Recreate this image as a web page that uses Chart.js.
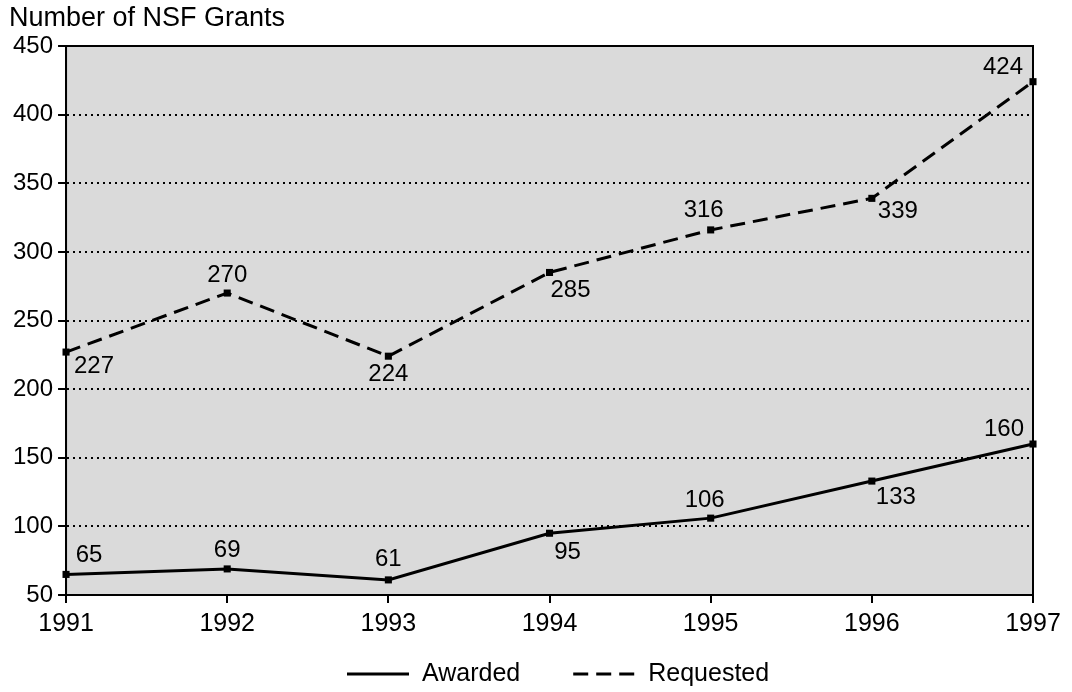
<!DOCTYPE html>
<html>
<head>
<meta charset="utf-8">
<title>Number of NSF Grants</title>
<script src="https://cdn.jsdelivr.net/npm/chart.js@4.4.0/dist/chart.umd.min.js"></script>
<style>
    html, body { margin: 0; padding: 0; background: #fff; }
    #wrap { width: 1072px; height: 692px; }
</style>
</head>
<body>
<div id="wrap"><canvas id="grantsChart"></canvas></div>
<script>
// Data
const years = ['1991', '1992', '1993', '1994', '1995', '1996', '1997'];
const awarded = [65, 69, 61, 95, 106, 133, 160];
const requested = [227, 270, 224, 285, 316, 339, 424];
const yMin = 50;
const yMax = 450;
const yStep = 50;

// where each value label sits relative to its point (dx, dy in px)
const awardedLabelOffsets = [[23, -19], [0, -19], [0, -21], [18, 19], [-6, -18], [24, 16], [-29, -15]];
const requestedLabelOffsets = [[28, 14], [0, -18], [0, 18], [21, 18], [-7, -20], [26, 13], [-30, -14]];

const FONT = "'Liberation Sans', Arial, Helvetica, sans-serif";

// gray plot background, frame, y title, point labels and the legend
const decorations = {
    id: 'decorations',
    beforeDraw(chart) {
        const { ctx, chartArea: a } = chart;
        ctx.save();
        ctx.fillStyle = '#dadada';
        ctx.fillRect(a.left, a.top, a.right - a.left, a.bottom - a.top);
        ctx.fillStyle = '#000';
        ctx.font = '27px ' + FONT;
        ctx.textAlign = 'left';
        ctx.textBaseline = 'middle';
        ctx.fillText('Number of NSF Grants', 9, 19);
        ctx.restore();
    },
    afterDraw(chart) {
        const { ctx, chartArea: a } = chart;
        ctx.save();
        ctx.strokeStyle = '#000';
        ctx.lineWidth = 2;
        ctx.setLineDash([]);
        ctx.strokeRect(a.left, a.top, a.right - a.left, a.bottom - a.top);

        ctx.fillStyle = '#000';
        ctx.font = '24px ' + FONT;
        ctx.textAlign = 'center';
        ctx.textBaseline = 'middle';
        const offsets = [awardedLabelOffsets, requestedLabelOffsets];
        chart.data.datasets.forEach((ds, i) => {
            const meta = chart.getDatasetMeta(i);
            meta.data.forEach((pt, j) => {
                const [dx, dy] = offsets[i][j];
                ctx.fillText(String(ds.data[j]), pt.x + dx, pt.y + dy);
            });
        });

        // legend: line sample + label for each dataset
        ctx.font = '25px ' + FONT;
        ctx.textAlign = 'left';
        const legendY = 674;
        let x = 347;
        chart.data.datasets.forEach((ds) => {
            ctx.beginPath();
            ctx.lineWidth = 3;
            ctx.setLineDash(ds.borderDash || []);
            ctx.moveTo(x, legendY);
            ctx.lineTo(x + 62, legendY);
            ctx.stroke();
            ctx.setLineDash([]);
            ctx.fillText(ds.label, x + 75, legendY);
            x += 75 + ctx.measureText(ds.label).width + 53;
        });
        ctx.restore();
    }
};

new Chart(document.getElementById('grantsChart'), {
    type: 'line',
    data: {
        labels: years,
        datasets: [
            {
                label: 'Awarded',
                data: awarded,
                borderColor: '#000',
                backgroundColor: '#000',
                borderWidth: 3,
                pointStyle: 'rect',
                pointRadius: 5,
                pointBackgroundColor: '#000',
                pointBorderWidth: 0,
                tension: 0,
                fill: false
            },
            {
                label: 'Requested',
                data: requested,
                borderColor: '#000',
                backgroundColor: '#000',
                borderWidth: 3,
                borderDash: [15, 8],
                pointStyle: 'rect',
                pointRadius: 5,
                pointBackgroundColor: '#000',
                pointBorderWidth: 0,
                tension: 0,
                fill: false
            }
        ]
    },
    options: {
        responsive: true,
        maintainAspectRatio: false,
        animation: false,
        devicePixelRatio: 1,
        layout: { padding: { left: 8, right: 39, top: 46, bottom: 47 } },
        plugins: {
            title: { display: false },
            tooltip: { enabled: false },
            legend: { display: false }
        },
        scales: {
            x: {
                offset: false,
                grid: {
                    drawOnChartArea: false,
                    drawTicks: true,
                    tickLength: 8,
                    color: '#000',
                    lineWidth: 2,
                    tickBorderDash: []
                },
                border: { display: true, color: '#000', width: 2 },
                ticks: {
                    color: '#000',
                    font: { family: FONT, size: 25 },
                    padding: 6,
                    maxRotation: 0,
                    autoSkip: false
                }
            },
            y: {
                min: yMin,
                max: yMax,
                grid: {
                    color: '#000',
                    lineWidth: 2,
                    tickLength: 8,
                    tickColor: '#000',
                    tickWidth: 2,
                    tickBorderDash: []
                },
                border: { display: true, color: '#000', width: 2, dash: [2, 4] },
                ticks: {
                    stepSize: yStep,
                    color: '#000',
                    font: { family: FONT, size: 24 },
                    padding: 5
                }
            }
        }
    },
    plugins: [decorations]
});
</script>
</body>
</html>
